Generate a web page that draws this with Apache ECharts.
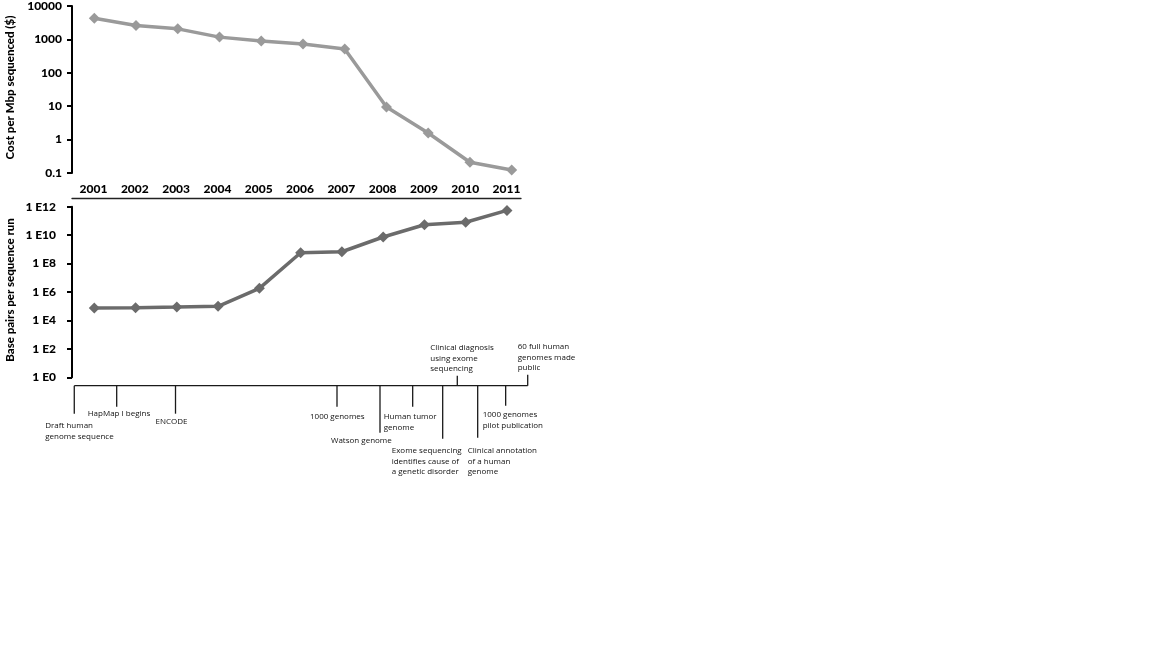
<!DOCTYPE html>
<html><head><meta charset="utf-8">
<script src="https://cdn.jsdelivr.net/npm/echarts@6/dist/echarts.min.js"></script>
<style>html,body{margin:0;padding:0;background:#fff}#c{width:1152px;height:648px}</style>
</head><body><div id="c"></div>
<script>
// ---------- data ----------
const years = [2001, 2002, 2003, 2004, 2005, 2006, 2007, 2008, 2009, 2010, 2011];
const costPerMbp = [4300, 2600, 2070, 1170, 890, 725, 515, 9.4, 1.58, 0.21, 0.123];
const basePairsPerRun = [7.4e4, 7.8e4, 8.7e4, 9.8e4, 1.8e6, 5.8e8, 6.8e8, 7.4e9, 5.4e10, 8.0e10, 5.5e11];
const costTicks = [0.1, 1, 10, 100, 1000, 10000];
const bpTicks = [1, 1e2, 1e4, 1e6, 1e8, 1e10, 1e12];
const eventNames = [
  'Draft human\ngenome sequence',
  'HapMap I begins',
  'ENCODE',
  '1000 genomes',
  'Watson genome',
  'Human tumor\ngenome',
  'Exome sequencing\nidentifies cause of\na genetic disorder',
  'Clinical diagnosis\nusing exome\nsequencing',
  'Clinical annotation\nof a human\ngenome',
  '1000 genomes\npilot publication',
  '60 full human\ngenomes made\npublic'
];
const eventDates = [2000.515, 2001.543, 2002.968, 2006.881, 2007.923, 2008.715, 2009.442, 2009.796, 2010.290, 2010.968, 2011.502];

// ---------- layout (pixels) ----------
const eventLayout = [
  {tick: 28, dx: -29, dy: 35},
  {tick: 21, dx: -29, dy: 23},
  {tick: 28, dx: -20, dy: 31},
  {tick: 21, dx: -27, dy: 26},
  {tick: 47, dx: -49, dy: 50},
  {tick: 21, dx: -29, dy: 26},
  {tick: 53, dx: -51, dy: 60},
  {tick: -10, dx: -27, dy: -43},
  {tick: 52, dx: -10, dy: 60},
  {tick: 20, dx: -23, dy: 24},
  {tick: -11, dx: -10, dy: -44}
];

const boldFont = 'Lato';
const boldWeight = 900;
const axisColor = '#000';

const chart = echarts.init(document.getElementById('c'), null, {renderer: 'canvas'});
chart.setOption({
  animation: false,
  backgroundColor: '#fff',
  grid: [
    {left: 72, width: 449, top: 5, height: 168},
    {left: 72, width: 449, top: 206.7, height: 170.6},
    {left: 72, width: 470, top: 385.7, height: 100}
  ],
  xAxis: [
    { // year label axis for top chart
      type: 'value', gridIndex: 0, min: 2000.479, max: 2011.35, offset: 25,
      axisLine: {show: true, lineStyle: {color: '#222', width: 1.3}},
      axisTick: {show: false},
      splitLine: {show: false},
      axisLabel: {inside: true, margin: 3, customValues: years, formatter: v => String(Math.round(v)),
        fontFamily: boldFont, fontWeight: boldWeight, fontSize: 12, color: axisColor}
    },
    { // data axis for top chart
      type: 'value', gridIndex: 0, min: 2000.466, max: 2011.223, show: false
    },
    { // bottom chart
      type: 'value', gridIndex: 1, min: 2000.460, max: 2011.340, show: false
    },
    { // timeline
      type: 'value', gridIndex: 2, min: 2000.460, max: 2000.460 + 470 / 41.27, show: false
    }
  ],
  yAxis: [
    {
      type: 'log', logBase: 10, gridIndex: 0, min: 0.1, max: 10000,
      name: 'Cost per Mbp sequenced ($)', nameLocation: 'middle', nameGap: 56,
      nameTextStyle: {fontFamily: boldFont, fontWeight: boldWeight, fontSize: 11.5, color: axisColor, padding: [0, 0, 0, 4]},
      axisLine: {show: true, lineStyle: {color: axisColor, width: 2}},
      axisTick: {show: true, length: 5, customValues: costTicks, lineStyle: {color: axisColor, width: 2}},
      splitLine: {show: false},
      axisLabel: {customValues: costTicks, margin: 10, formatter: v => String(v),
        fontFamily: boldFont, fontWeight: boldWeight, fontSize: 12, color: axisColor}
    },
    {
      type: 'log', logBase: 10, gridIndex: 1, min: 1, max: 1e12,
      name: 'Base pairs per sequence run', nameLocation: 'middle', nameGap: 56,
      nameTextStyle: {fontFamily: boldFont, fontWeight: boldWeight, fontSize: 11.5, color: axisColor, padding: [0, 0, 0, 4]},
      axisLine: {show: true, lineStyle: {color: axisColor, width: 2}},
      axisTick: {show: true, length: 5, customValues: bpTicks, lineStyle: {color: axisColor, width: 2}},
      splitLine: {show: false},
      axisLabel: {customValues: bpTicks, margin: 16, formatter: v => '1 E' + Math.round(Math.log10(v)),
        fontFamily: boldFont, fontWeight: boldWeight, fontSize: 12, color: axisColor}
    },
    {
      type: 'value', gridIndex: 2, min: 0, max: 1, show: false
    }
  ],
  series: [
    {
      type: 'line', xAxisIndex: 1, yAxisIndex: 0,
      data: years.map((y, i) => [y, costPerMbp[i]]),
      symbol: 'diamond', symbolSize: 11,
      lineStyle: {color: '#9a9a9a', width: 3.5},
      itemStyle: {color: '#9a9a9a'}
    },
    {
      type: 'line', xAxisIndex: 2, yAxisIndex: 1,
      data: years.map((y, i) => [y, basePairsPerRun[i]]),
      symbol: 'diamond', symbolSize: 11,
      lineStyle: {color: '#6b6b6b', width: 3.5},
      itemStyle: {color: '#6b6b6b'}
    },
    {
      type: 'line', xAxisIndex: 3, yAxisIndex: 2,
      data: [[eventDates[0], 1], [eventDates[eventDates.length - 1], 1]],
      symbol: 'none',
      lineStyle: {color: '#1a1a1a', width: 1.3}
    },
    {
      type: 'custom', xAxisIndex: 3, yAxisIndex: 2, clip: false,
      data: eventDates.map(d => [d, 1]),
      renderItem: function (params, api) {
        const i = params.dataIndex;
        const p = api.coord([api.value(0), api.value(1)]);
        const L = eventLayout[i];
        return {
          type: 'group',
          children: [
            {type: 'line', shape: {x1: p[0], y1: p[1], x2: p[0], y2: p[1] + L.tick},
              style: {stroke: '#1a1a1a', lineWidth: 1.3}},
            {type: 'text', x: p[0] + L.dx, y: p[1] + L.dy,
              style: {text: eventNames[i], font: '8px "Open Sans"', fill: '#111',
                lineHeight: 10.5, verticalAlign: 'top', align: 'left'}}
          ]
        };
      }
    }
  ]
});
</script>
</body></html>
